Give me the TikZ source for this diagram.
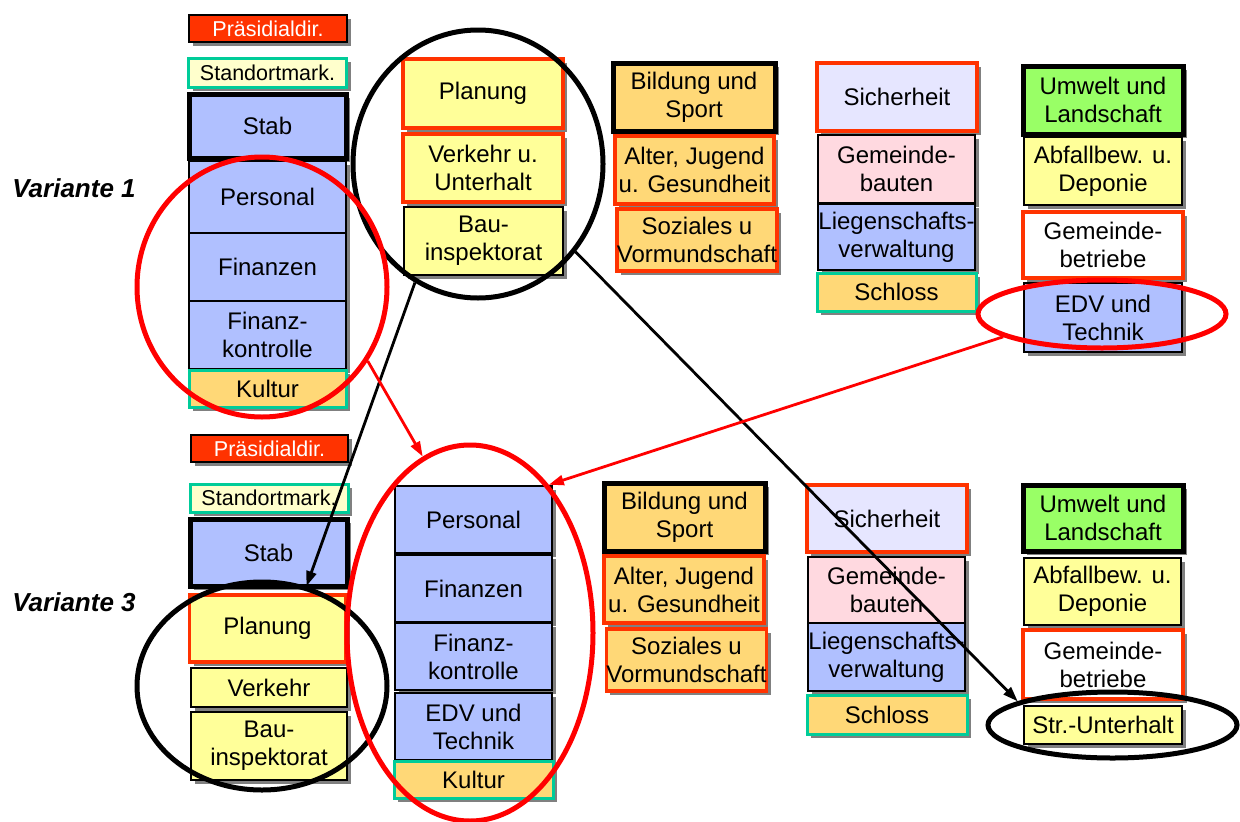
\documentclass[tikz,border=0pt]{standalone}
\usepackage{fontspec}
\setmainfont{Liberation Sans}
\usetikzlibrary{shapes.geometric, shadows, arrows.meta}
\definecolor{presred}{HTML}{FF3300}
\definecolor{rimred}{HTML}{FF3300}
\definecolor{rimteal}{HTML}{00CC99}
\definecolor{paleyellow}{HTML}{FFFFCC}
\definecolor{deptblue}{HTML}{B0C0FF}
\definecolor{deptyellow}{HTML}{FFFF99}
\definecolor{deptorange}{HTML}{FFD877}
\definecolor{deptlavender}{HTML}{E6E6FF}
\definecolor{deptpink}{HTML}{FFD9E0}
\definecolor{deptgreen}{HTML}{99FF66}
\definecolor{shadowgray}{HTML}{808080}

\begin{document}
\begin{tikzpicture}[x=1pt, y=-1pt,
  dept/.style={draw=black, line width=1.8pt, minimum width=158pt, inner sep=0pt, align=center,
    font=\fontsize{24}{28}\selectfont,
    general shadow={fill=shadowgray, shadow xshift=4pt, shadow yshift=-4pt}},
  deptsmall/.style={dept, font=\fontsize{21.5}{24}\selectfont},
  redrim/.style={draw=rimred, line width=3.5pt},
  tealrim/.style={draw=rimteal, line width=3pt},
  heavyrim/.style={draw=black, line width=5pt},
  ring/.style={ellipse, draw, line width=5pt, inner sep=0pt},
  movearrow/.style={line width=2.8pt, -{Triangle[length=15pt,width=10pt]}},
  variant/.style={font=\fontsize{26}{30}\selectfont\bfseries\itshape}]
  \useasboundingbox (0,0) rectangle (1240,822);

  % Variante 1
  \node[variant] (varA) at (74,188) {Variante 1};
  \node[deptsmall, fill=presred, text=white, minimum height=27pt] (praesA) at (268,28.5) {Präsidialdir.};
  \node[deptsmall, tealrim, fill=paleyellow, minimum height=29pt] (standA) at (267.5,72.5) {Standortmark.};
  \node[dept, heavyrim, fill=deptblue, minimum width=157pt, minimum height=64pt] (stabA) at (267.5,126) {Stab};
  \node[dept, fill=deptblue, minimum width=157pt, minimum height=72pt] (persA) at (267.5,197) {Personal};
  \node[dept, fill=deptblue, minimum width=157pt, minimum height=68pt] (finA) at (267.5,267) {Finanzen};
  \node[dept, fill=deptblue, minimum width=157pt, minimum height=68pt] (fkA) at (267.5,335) {Finanz-\\kontrolle};
  \node[dept, tealrim, fill=deptorange, minimum width=157pt, minimum height=37pt] (kultA) at (267.5,388.5) {Kultur};

  \node[dept, redrim, fill=deptyellow, minimum width=160pt, minimum height=69pt] (planA) at (483,93.5) {Planung};
  \node[dept, redrim, fill=deptyellow, minimum width=160pt, minimum height=68pt] (verkA) at (483,168) {Verkehr u.\\Unterhalt};
  \node[dept, fill=deptyellow, minimum width=159pt, minimum height=68pt] (bauA) at (483.5,241) {Bau-\\inspektorat};

  \node[dept, heavyrim, fill=deptorange, minimum width=162pt, minimum height=68pt] (bildA) at (694,97) {Bildung und\\Sport};
  \node[dept, redrim, fill=deptorange, minimum width=159pt, minimum height=68pt] (alterA) at (694.5,170) {Alter, Jugend\\u. Gesundheit};
  \node[dept, redrim, fill=deptorange, minimum width=160pt, minimum height=62pt] (sozA) at (697,240) {Soziales u\\Vormundschaft};

  \node[dept, redrim, fill=deptlavender, minimum width=160pt, minimum height=68pt] (sichA) at (897,97) {Sicherheit};
  \node[dept, fill=deptpink, minimum width=157pt, minimum height=68pt] (gbauA) at (896.5,169) {Gemeinde-\\bauten};
  \node[dept, fill=deptblue, minimum width=157pt, minimum height=66pt] (liegA) at (896.5,237) {Liegenschafts-\\verwaltung};
  \node[dept, tealrim, fill=deptorange, minimum width=159pt, minimum height=38pt] (schlA) at (896.5,292) {Schloss};

  \node[dept, heavyrim, fill=deptgreen, minimum width=160pt, minimum height=68pt] (umwA) at (1103,100) {Umwelt und\\Landschaft};
  \node[dept, fill=deptyellow, minimum height=68pt] (abfA) at (1103,171) {Abfallbew. u.\\Deponie};
  \node[dept, redrim, fill=white, minimum width=160pt, minimum height=66pt] (gbetA) at (1103,245) {Gemeinde-\\betriebe};
  \node[dept, fill=deptblue, minimum height=69pt] (edvA) at (1103,317.5) {EDV und\\Technik};

  % Variante 3
  \node[variant] (varB) at (74,602) {Variante 3};
  \node[deptsmall, fill=presred, text=white, minimum width=157pt, minimum height=27pt] (praesB) at (269.5,448.5) {Präsidialdir.};
  \node[deptsmall, tealrim, fill=paleyellow, minimum height=28pt] (standB) at (269,498) {Standortmark.};
  \node[dept, heavyrim, fill=deptblue, minimum width=157pt, minimum height=67pt] (stabB) at (268.5,552.5) {Stab};
  \node[dept, redrim, fill=deptyellow, minimum width=156pt, minimum height=67pt] (planB) at (267.5,628.5) {Planung};
  \node[dept, fill=deptyellow, minimum width=156pt, minimum height=39pt] (verkB) at (269,687.5) {Verkehr};
  \node[dept, fill=deptyellow, minimum width=156pt, minimum height=68pt] (bauB) at (269,746) {Bau-\\inspektorat};

  \node[dept, fill=deptblue, minimum width=157pt, minimum height=67pt] (persB) at (473.5,519.5) {Personal};
  \node[dept, fill=deptblue, minimum width=157pt, minimum height=67pt] (finB) at (473.5,588.5) {Finanzen};
  \node[dept, fill=deptblue, minimum width=157pt, minimum height=67pt] (fkB) at (473.5,656.5) {Finanz-\\kontrolle};
  \node[dept, fill=deptblue, minimum width=157pt, minimum height=67pt] (edvB) at (473.5,726.5) {EDV und\\Technik};
  \node[dept, tealrim, fill=deptorange, minimum width=159pt, minimum height=37pt] (kultB) at (473.5,779.5) {Kultur};

  \node[dept, heavyrim, fill=deptorange, minimum width=161pt, minimum height=68pt] (bildB) at (684.5,517) {Bildung und\\Sport};
  \node[dept, redrim, fill=deptorange, minimum width=160pt, minimum height=67pt] (alterB) at (684,589.5) {Alter, Jugend\\u. Gesundheit};
  \node[dept, redrim, fill=deptorange, minimum width=159pt, minimum height=62pt] (sozB) at (686.5,660) {Soziales u\\Vormundschaft};

  \node[dept, redrim, fill=deptlavender, minimum width=160pt, minimum height=67pt] (sichB) at (887,518.5) {Sicherheit};
  \node[dept, fill=deptpink, minimum width=157pt, minimum height=66pt] (gbauB) at (886.5,590) {Gemeinde-\\bauten};
  \node[dept, fill=deptblue, minimum width=157pt, minimum height=68pt] (liegB) at (886.5,657) {Liegenschafts-\\verwaltung};
  \node[dept, tealrim, fill=deptorange, minimum width=160pt, minimum height=39pt] (schlB) at (887,714.5) {Schloss};

  \node[dept, heavyrim, fill=deptgreen, minimum width=160pt, minimum height=66pt] (umwB) at (1103,518) {Umwelt und\\Landschaft};
  \node[dept, fill=deptyellow, minimum width=157pt, minimum height=67pt] (abfB) at (1102.5,591.5) {Abfallbew. u.\\Deponie};
  \node[dept, redrim, fill=white, minimum width=160pt, minimum height=69pt] (gbetB) at (1103,664.5) {Gemeinde-\\betriebe};
  \node[dept, fill=deptyellow, minimum height=38pt] (strB) at (1103,725) {Str.-Unterhalt};

  % rings
  \node[ring, minimum width=250pt, minimum height=268pt] (ringA) at (478,164) {};
  \node[ring, red, minimum width=250pt, minimum height=260pt] (loopA) at (262,287) {};
  \node[ring, red, minimum width=248pt, minimum height=68pt] (edvring) at (1102,314) {};
  \node[ring, minimum width=250pt, minimum height=208pt] (ringB) at (262,686) {};
  \node[ring, red, minimum width=246pt, minimum height=376pt] (loopB) at (470,633) {};
  \node[ring, minimum width=249pt, minimum height=66pt] (strring) at (1112.5,725) {};

  % moves
  \draw[movearrow] (ringA.242) -- (ringB.66);
  \draw[movearrow] (ringA.318) -- (strring.166);
  \draw[movearrow, red] (loopA.325) -- (loopB.105);
  \draw[movearrow, red] (edvring.193) -- (loopB.62);
\end{tikzpicture}
\end{document}
